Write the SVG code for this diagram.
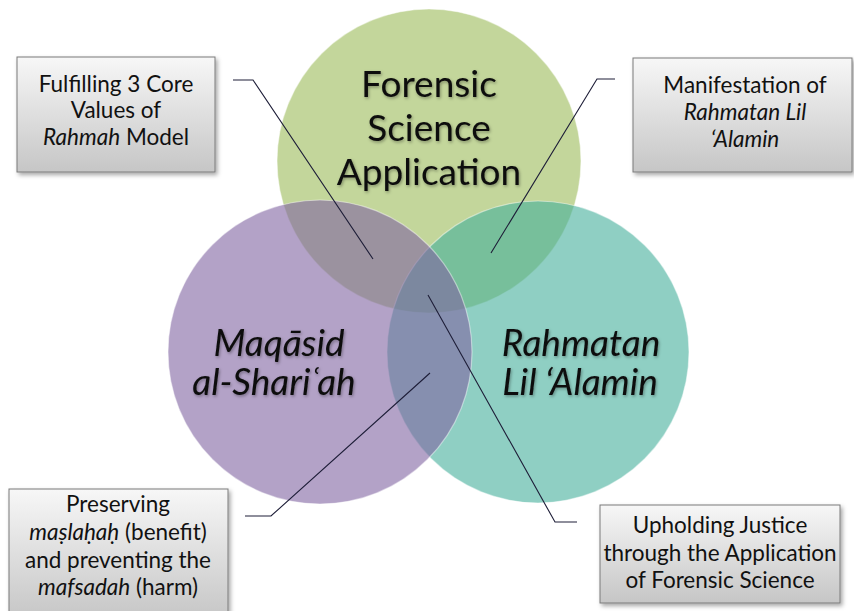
<svg xmlns="http://www.w3.org/2000/svg" width="854" height="611" viewBox="0 0 854 611">
<style>
.circ{stroke:#ffffff;stroke-opacity:0.45;stroke-width:1.2}
.title{font-family:Lato,"Open Sans","Liberation Sans",sans-serif;font-size:37px;fill:#0d0d0d;text-anchor:middle;filter:url(#tshadow)}
.ital{font-style:italic}
.box{fill:url(#boxgrad);stroke:#7a7a7a;stroke-width:1;filter:url(#bshadow)}
.lbl{font-family:Lato,"Open Sans","Liberation Sans",sans-serif;font-size:22.5px;fill:#111111;text-anchor:middle}
.conn{fill:none;stroke:#1e1e38;stroke-width:1.1}
</style>
<defs>
<linearGradient id="boxgrad" x1="0" y1="0" x2="0" y2="1">
<stop offset="0" stop-color="#f7f7f7"/>
<stop offset="1" stop-color="#c6c6c6"/>
</linearGradient>
<filter id="bshadow" x="-10%" y="-10%" width="125%" height="130%">
<feDropShadow dx="2" dy="2.5" stdDeviation="2" flood-color="#000" flood-opacity="0.35"/>
</filter>
<filter id="tshadow" x="-10%" y="-20%" width="120%" height="150%">
<feDropShadow dx="1" dy="1.5" stdDeviation="1.5" flood-color="#000" flood-opacity="0.35"/>
</filter>
</defs>
<rect width="854" height="611" fill="#ffffff"/>
<g id="circle-forensic">
<circle class="circ" cx="429" cy="161" r="152" fill="#9bbb59" fill-opacity="0.6"/>
</g>
<g id="circle-rahmatan">
<circle class="circ" cx="538" cy="352" r="151" fill="#44af9b" fill-opacity="0.6"/>
</g>
<g id="circle-maqasid">
<circle class="circ" cx="320" cy="352" r="152" fill="#8064a2" fill-opacity="0.6"/>
</g>
<g id="titles">
<text class="title"><tspan x="429" y="97">Forensic</tspan><tspan x="429" y="141">Science</tspan><tspan x="429" y="185">Application</tspan></text>
<text class="title ital" font-size="36"><tspan x="279" y="356">Maqāsid</tspan><tspan x="274" y="395">al-Shariʿah</tspan></text>
<text class="title ital" font-size="36"><tspan x="581" y="356">Rahmatan</tspan><tspan x="580" y="395">Lil ‘Alamin</tspan></text>
</g>
<g id="connectors">
<path class="conn" d="M233,80 H253 L373,259"/>
<path class="conn" d="M615,79 H597 L491,253"/>
<path class="conn" d="M245,516 H271 L430,373"/>
<path class="conn" d="M577,522 H555 L428,295"/>
</g>
<g id="box-fulfilling">
<rect class="box" x="17" y="57" width="198" height="115"/>
<text class="lbl"><tspan x="116" y="92">Fulfilling 3 Core</tspan><tspan x="116" y="118">Values of</tspan><tspan x="116" y="145"><tspan class="ital">Rahmah</tspan> Model</tspan></text>
</g>
<g id="box-manifestation">
<rect class="box" x="633" y="58" width="219" height="114"/>
<text class="lbl ital"><tspan x="745" y="93" font-style="normal">Manifestation of</tspan><tspan x="745" y="120">Rahmatan Lil</tspan><tspan x="745" y="147">‘Alamin</tspan></text>
</g>
<g id="box-preserving">
<rect class="box" x="9" y="489" width="219" height="130"/>
<text class="lbl"><tspan x="118" y="512">Preserving</tspan><tspan x="118" y="540"><tspan class="ital">maṣlaḥaḥ</tspan> (benefit)</tspan><tspan x="118" y="568">and preventing the</tspan><tspan x="118" y="595"><tspan class="ital">mafsadah</tspan> (harm)</tspan></text>
</g>
<g id="box-upholding">
<rect class="box" x="600" y="505" width="240" height="98"/>
<text class="lbl"><tspan x="720" y="533">Upholding Justice</tspan><tspan x="720" y="561">through the Application</tspan><tspan x="720" y="588">of Forensic Science</tspan></text>
</g>
</svg>
